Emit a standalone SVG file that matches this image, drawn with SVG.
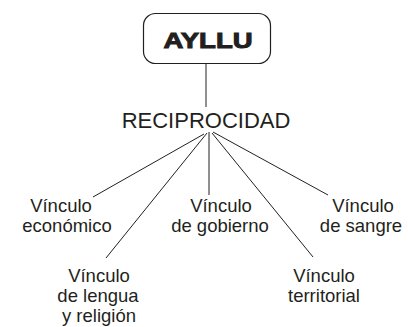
<svg xmlns="http://www.w3.org/2000/svg" width="408" height="327" viewBox="0 0 408 327">
<style>
text{font-family:"Liberation Sans",Arial,sans-serif;fill:#231f20;text-anchor:middle}
.n{font-size:18.5px}
.c line{stroke:#231f20;stroke-width:1}
</style>
<rect width="408" height="327" fill="#fff"/>
<g class="c" id="connectors">
<line x1="206" y1="63" x2="206" y2="107"/>
<line x1="204" y1="134" x2="93" y2="197"/>
<line x1="207" y1="133" x2="106" y2="258"/>
<line x1="209" y1="132" x2="209" y2="195" stroke-width="1.3"/>
<line x1="212" y1="133" x2="313" y2="257"/>
<line x1="213" y1="132" x2="328" y2="195"/>
</g>
<g id="ayllu">
<rect x="143.5" y="13.5" width="127" height="50" rx="12" fill="#fff" stroke="#231f20" stroke-width="1.2"/>
<text x="208" y="48" font-size="22" font-weight="bold" stroke="#231f20" stroke-width="1" textLength="89" lengthAdjust="spacingAndGlyphs">AYLLU</text>
</g>
<g id="reciprocidad">
<text x="206" y="128" font-size="22">RECIPROCIDAD</text>
</g>
<g id="economico" class="n">
<text x="61" y="212">Vínculo</text>
<text x="67" y="232">económico</text>
</g>
<g id="gobierno" class="n">
<text x="221" y="212">Vínculo</text>
<text x="220" y="232">de gobierno</text>
</g>
<g id="sangre" class="n">
<text x="363" y="212">Vínculo</text>
<text x="361" y="232">de sangre</text>
</g>
<g id="lengua" class="n">
<text x="99" y="282">Vínculo</text>
<text x="98" y="302">de lengua</text>
<text x="99" y="322">y religión</text>
</g>
<g id="territorial" class="n">
<text x="324" y="282">Vínculo</text>
<text x="324" y="302">territorial</text>
</g>
</svg>
